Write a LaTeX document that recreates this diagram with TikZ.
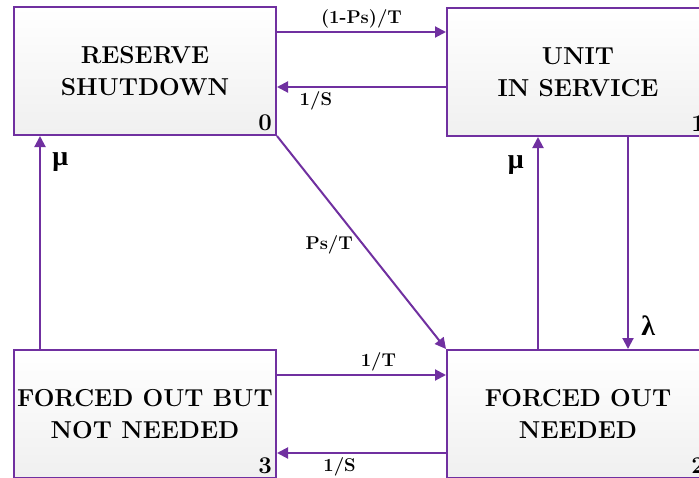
\documentclass[tikz,border=0pt]{standalone}
\usepackage{fontspec}
\newfontfamily\greekfont{Liberation Serif}
\usetikzlibrary{arrows.meta,calc,positioning}
\definecolor{stpurple}{RGB}{112,48,160}
\tikzset{
    stbox/.style = {draw=stpurple, line width=2pt, rectangle,
        top color=white, bottom color=gray!12,
        minimum height=128pt,
        minimum width=262pt, inner sep=0pt, align=center,
        font=\fontsize{24.5}{32}\selectfont\bfseries},
    num/.style = {anchor=south east, inner sep=5pt, font=\fontsize{24}{24}\selectfont\bfseries},
    arrow/.style = {draw=stpurple, line width=2pt, -{Triangle[length=11pt,width=11pt]}},
    rate/.style = {text=black, font=\fontsize{18.5}{18.5}\selectfont\bfseries},
    greek/.style = {text=black, font=\fontsize{28}{28}\selectfont\greekfont\bfseries}
}

\begin{document}
\begin{tikzpicture}[x=1pt, y=-1pt]
                \useasboundingbox (0,0) rectangle (699,477);
                \node[stbox] (res) at (145,71) {RESERVE\\SHUTDOWN};
                \node[stbox] (srv) at (578,72) {UNIT\\IN SERVICE};
                \node[stbox] (fnn) at (145,414) {FORCED OUT BUT\\NOT NEEDED};
                \node[stbox] (fnd) at (578,414) {FORCED OUT\\NEEDED};
                \node[num] (res0) at (res.south east) {0};
                \node[num] (srv1) at (srv.south east) {1};
                \node[num] (fnd2) at (fnd.south east) {2};
                \node[num] (fnn3) at (fnn.south east) {3};
                % top pair
                \draw[arrow] ([yshift=39pt]res.east) -- node[rate, above] {(1-Ps)/T} ([yshift=39pt]res.east -| srv.west);
                \draw[arrow] ([yshift=-15pt]srv.west -| srv.west) -- node[rate, below, pos=0.77] {1/S} ([yshift=-15pt]srv.west -| res.east);
                % bottom pair
                \draw[arrow] ([yshift=39pt]fnn.east) -- node[rate, above, pos=0.6] {1/T} ([yshift=39pt]fnn.east -| fnd.west);
                \draw[arrow] ([yshift=-39pt]fnd.west) -- node[rate, below, pos=0.63] {1/S} ([yshift=-39pt]fnd.west -| fnn.east);
                % verticals and diagonal
                \draw[arrow] ([xshift=27pt]fnn.north west) -- node[greek, right=8pt, pos=0.88] {μ} ([xshift=27pt]fnn.north west |- res.south);
                \draw[arrow] ([xshift=92pt]fnd.north west) -- node[greek, left=10pt, pos=0.87] {μ} ([xshift=92pt]fnd.north west |- srv.south);
                \draw[arrow] ([xshift=182pt]srv.south west) -- node[greek, right=9pt, pos=0.89] {λ} ([xshift=182pt]srv.south west |- fnd.north);
                \draw[arrow] (res.south east) -- node[rate, left=6pt, pos=0.51] {Ps/T} (fnd.north west);
            \end{tikzpicture}
\end{document}
